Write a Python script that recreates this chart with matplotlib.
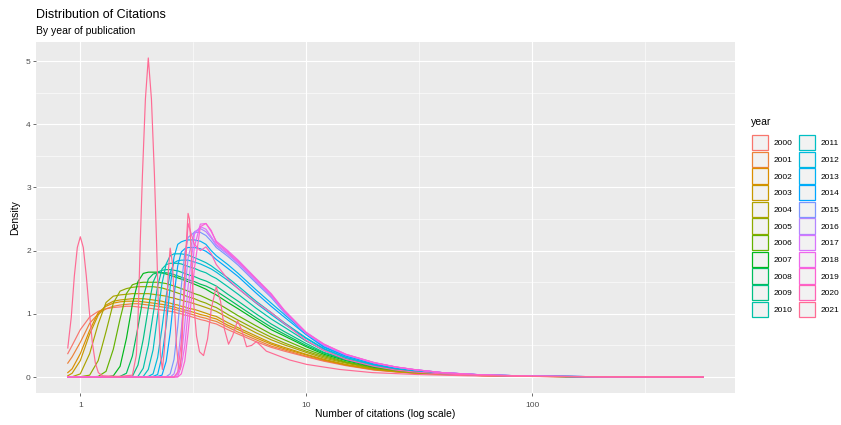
import numpy as np
import matplotlib
matplotlib.use("Agg")
import matplotlib.pyplot as plt
from matplotlib.patches import Patch
from matplotlib.ticker import FixedLocator

plt.rcParams["font.family"] = ["Liberation Sans", "DejaVu Sans"]

# ---- data ----
years = list(range(2000, 2022))

# common citation grid for 2000-2020
cites = [0.88, 0.92, 1.0,
         1.1, 1.2, 1.3, 1.4, 1.5, 1.6, 1.7, 1.8, 1.9,
         2.0, 2.1, 2.2, 2.3, 2.4, 2.5, 2.6, 2.7, 2.8, 2.9,
         3.0, 3.2, 3.4, 3.6, 3.8, 4.0,
         4.5, 5, 6, 7, 8, 10, 12, 15,
         20, 25, 30, 40, 60, 100, 200, 573]

density = [
    # 2000
    [0.37, 0.50, 0.75,
     0.95, 1.04, 1.08, 1.10, 1.11, 1.12, 1.12, 1.11, 1.10,
     1.09, 1.08, 1.07, 1.06, 1.05, 1.04, 1.03, 1.01, 1.00, 0.98,
     0.97, 0.94, 0.91, 0.89, 0.86, 0.84,
     0.75, 0.68, 0.56, 0.47, 0.41, 0.32, 0.25, 0.18,
     0.11, 0.08, 0.06, 0.04, 0.022, 0.010, 0.004, 0.001],
    # 2001
    [0.22, 0.32, 0.55,
     0.85, 1.00, 1.08, 1.12, 1.14, 1.15, 1.16, 1.16, 1.15,
     1.14, 1.13, 1.12, 1.11, 1.10, 1.09, 1.07, 1.06, 1.04, 1.03,
     1.01, 0.98, 0.95, 0.93, 0.90, 0.88,
     0.79, 0.71, 0.59, 0.49, 0.43, 0.33, 0.26, 0.19,
     0.114, 0.083, 0.062, 0.042, 0.023, 0.011, 0.004, 0.001],
    # 2002
    [0.07, 0.13, 0.37,
     0.74, 1.02, 1.12, 1.17, 1.19, 1.20, 1.20, 1.20, 1.19,
     1.18, 1.17, 1.16, 1.15, 1.14, 1.12, 1.11, 1.09, 1.08, 1.06,
     1.05, 1.02, 0.99, 0.97, 0.94, 0.92,
     0.82, 0.75, 0.62, 0.52, 0.45, 0.35, 0.27, 0.19,
     0.12, 0.086, 0.064, 0.043, 0.023, 0.011, 0.004, 0.001],
    # 2003
    [0.02, 0.06, 0.26,
     0.68, 0.98, 1.14, 1.20, 1.22, 1.23, 1.24, 1.24, 1.24,
     1.23, 1.22, 1.21, 1.20, 1.18, 1.17, 1.15, 1.14, 1.12, 1.11,
     1.09, 1.07, 1.04, 1.01, 0.98, 0.96,
     0.86, 0.78, 0.65, 0.54, 0.47, 0.36, 0.28, 0.20,
     0.124, 0.089, 0.067, 0.045, 0.024, 0.011, 0.004, 0.001],
    # 2004
    [0.0, 0.005, 0.05,
     0.37, 0.84, 1.18, 1.28, 1.30, 1.31, 1.32, 1.32, 1.32,
     1.32, 1.31, 1.30, 1.29, 1.28, 1.26, 1.25, 1.23, 1.22, 1.20,
     1.19, 1.16, 1.13, 1.10, 1.07, 1.04,
     0.94, 0.85, 0.70, 0.59, 0.51, 0.39, 0.30, 0.22,
     0.13, 0.096, 0.072, 0.048, 0.025, 0.012, 0.004, 0.001],
    # 2005
    [0.0, 0.0, 0.005,
     0.03, 0.26, 0.72, 1.17, 1.36, 1.40, 1.42, 1.43, 1.43,
     1.43, 1.43, 1.42, 1.41, 1.39, 1.37, 1.35, 1.33, 1.31, 1.29,
     1.27, 1.24, 1.20, 1.17, 1.13, 1.10,
     0.99, 0.90, 0.75, 0.63, 0.54, 0.41, 0.32, 0.23,
     0.14, 0.10, 0.075, 0.05, 0.026, 0.012, 0.004, 0.001],
    # 2006
    [0.0, 0.0, 0.0,
     0.0, 0.01, 0.09, 0.44, 0.92, 1.32, 1.46, 1.49, 1.50,
     1.50, 1.50, 1.50, 1.49, 1.48, 1.46, 1.44, 1.42, 1.40, 1.38,
     1.36, 1.32, 1.29, 1.25, 1.21, 1.18,
     1.07, 0.97, 0.81, 0.68, 0.59, 0.44, 0.34, 0.24,
     0.15, 0.106, 0.079, 0.052, 0.027, 0.012, 0.004, 0.001],
    # 2007
    [0.0, 0.0, 0.0,
     0.0, 0.0, 0.0, 0.02, 0.17, 0.61, 1.15, 1.51, 1.64,
     1.66, 1.66, 1.66, 1.65, 1.63, 1.61, 1.59, 1.57, 1.55, 1.53,
     1.51, 1.47, 1.43, 1.39, 1.34, 1.30,
     1.18, 1.08, 0.90, 0.75, 0.65, 0.48, 0.36, 0.26,
     0.16, 0.114, 0.086, 0.056, 0.029, 0.013, 0.004, 0.001],
    # 2008
    [0.0, 0.0, 0.0,
     0.0, 0.0, 0.0, 0.0, 0.01, 0.06, 0.33, 0.79, 1.27,
     1.55, 1.63, 1.65, 1.65, 1.65, 1.64, 1.62, 1.60, 1.58, 1.56,
     1.54, 1.51, 1.47, 1.44, 1.40, 1.36,
     1.24, 1.13, 0.94, 0.79, 0.68, 0.50, 0.38, 0.27,
     0.165, 0.118, 0.088, 0.057, 0.03, 0.013, 0.004, 0.001],
    # 2009
    [0.0, 0.0, 0.0,
     0.0, 0.0, 0.0, 0.0, 0.0, 0.0, 0.01, 0.19, 0.60,
     1.09, 1.50, 1.66, 1.69, 1.70, 1.70, 1.69, 1.68, 1.66, 1.64,
     1.62, 1.59, 1.55, 1.52, 1.48, 1.44,
     1.31, 1.20, 1.00, 0.84, 0.72, 0.53, 0.39, 0.28,
     0.17, 0.124, 0.092, 0.059, 0.03, 0.013, 0.004, 0.001],
    # 2010
    [0.0, 0.0, 0.0,
     0.0, 0.0, 0.0, 0.0, 0.0, 0.0, 0.0, 0.01, 0.14,
     0.50, 0.99, 1.44, 1.71, 1.78, 1.80, 1.80, 1.80, 1.79, 1.77,
     1.75, 1.72, 1.68, 1.65, 1.60, 1.56,
     1.43, 1.31, 1.09, 0.92, 0.79, 0.57, 0.42, 0.29,
     0.18, 0.131, 0.098, 0.062, 0.032, 0.014, 0.004, 0.001],
    # 2011
    [0.0, 0.0, 0.0,
     0.0, 0.0, 0.0, 0.0, 0.0, 0.0, 0.0, 0.0, 0.01,
     0.12, 0.43, 0.98, 1.48, 1.79, 1.92, 1.95, 1.95, 1.95, 1.94,
     1.93, 1.89, 1.85, 1.81, 1.76, 1.70,
     1.57, 1.44, 1.20, 1.02, 0.86, 0.62, 0.45, 0.31,
     0.195, 0.139, 0.104, 0.065, 0.033, 0.014, 0.005, 0.001],
    # 2012
    [0.0, 0.0, 0.0,
     0.0, 0.0, 0.0, 0.0, 0.0, 0.0, 0.0, 0.0, 0.0,
     0.01, 0.05, 0.31, 0.78, 1.28, 1.65, 1.81, 1.84, 1.85, 1.85,
     1.85, 1.82, 1.79, 1.75, 1.71, 1.66,
     1.53, 1.40, 1.17, 0.99, 0.84, 0.61, 0.44, 0.31,
     0.19, 0.136, 0.103, 0.065, 0.033, 0.014, 0.005, 0.001],
    # 2013
    [0.0, 0.0, 0.0,
     0.0, 0.0, 0.0, 0.0, 0.0, 0.0, 0.0, 0.0, 0.0,
     0.0, 0.01, 0.04, 0.33, 0.82, 1.43, 1.90, 2.10, 2.14, 2.16,
     2.17, 2.17, 2.15, 2.10, 2.00, 1.92,
     1.78, 1.64, 1.38, 1.17, 0.99, 0.69, 0.48, 0.34,
     0.21, 0.15, 0.113, 0.069, 0.034, 0.015, 0.005, 0.001],
    # 2014
    [0.0, 0.0, 0.0,
     0.0, 0.0, 0.0, 0.0, 0.0, 0.0, 0.0, 0.0, 0.0,
     0.0, 0.0, 0.01, 0.03, 0.25, 0.70, 1.29, 1.76, 1.98, 2.03,
     2.05, 2.05, 2.03, 1.99, 1.93, 1.86,
     1.72, 1.59, 1.33, 1.12, 0.95, 0.67, 0.47, 0.33,
     0.21, 0.147, 0.11, 0.067, 0.034, 0.015, 0.005, 0.001],
    # 2015
    [0.0, 0.0, 0.0,
     0.0, 0.0, 0.0, 0.0, 0.0, 0.0, 0.0, 0.0, 0.0,
     0.0, 0.0, 0.0, 0.0, 0.005, 0.05, 0.28, 0.80, 1.43, 1.96,
     2.21, 2.29, 2.29, 2.24, 2.15, 2.05,
     1.91, 1.77, 1.49, 1.26, 1.02, 0.69, 0.50, 0.35,
     0.22, 0.156, 0.117, 0.07, 0.034, 0.015, 0.005, 0.001],
    # 2016
    [0.0, 0.0, 0.0,
     0.0, 0.0, 0.0, 0.0, 0.0, 0.0, 0.0, 0.0, 0.0,
     0.0, 0.0, 0.0, 0.0, 0.0, 0.0, 0.05, 0.26, 0.75, 1.36,
     1.88, 2.30, 2.35, 2.30, 2.20, 2.08,
     1.94, 1.80, 1.51, 1.28, 1.03, 0.69, 0.50, 0.35,
     0.225, 0.157, 0.117, 0.07, 0.034, 0.015, 0.005, 0.001],
    # 2017
    [0.0, 0.0, 0.0,
     0.0, 0.0, 0.0, 0.0, 0.0, 0.0, 0.0, 0.0, 0.0,
     0.0, 0.0, 0.0, 0.0, 0.0, 0.0, 0.0, 0.05, 0.30, 0.83,
     1.43, 2.26, 2.38, 2.34, 2.22, 2.10,
     1.96, 1.81, 1.53, 1.29, 1.04, 0.70, 0.51, 0.355,
     0.226, 0.158, 0.118, 0.07, 0.034, 0.015, 0.005, 0.001],
    # 2018
    [0.0, 0.0, 0.0,
     0.0, 0.0, 0.0, 0.0, 0.0, 0.0, 0.0, 0.0, 0.0,
     0.0, 0.0, 0.0, 0.0, 0.0, 0.0, 0.0, 0.01, 0.17, 0.49,
     1.03, 2.06, 2.42, 2.43, 2.30, 2.15,
     2.00, 1.85, 1.56, 1.32, 1.06, 0.71, 0.52, 0.36,
     0.23, 0.16, 0.12, 0.07, 0.035, 0.015, 0.005, 0.001],
    # 2019
    [0.0, 0.0, 0.0,
     0.0, 0.0, 0.0, 0.0, 0.0, 0.0, 0.0, 0.0, 0.0,
     0.0, 0.0, 0.0, 0.0, 0.0, 0.0, 0.0, 0.0, 0.05, 0.25,
     0.70, 1.72, 2.38, 2.43, 2.32, 2.13,
     1.98, 1.83, 1.55, 1.31, 1.05, 0.70, 0.52, 0.36,
     0.227, 0.159, 0.119, 0.07, 0.035, 0.015, 0.005, 0.001],
    # 2020
    [0.0, 0.0, 0.0,
     0.0, 0.0, 0.0, 0.0, 0.0, 0.0, 0.0, 0.0, 0.0,
     0.0, 0.0, 0.0, 0.0, 0.0, 0.0, 0.0, 0.08, 0.55, 1.60,
     2.43, 2.10, 2.00, 2.06, 1.95, 1.78,
     1.55, 1.40, 1.18, 1.02, 0.85, 0.58, 0.42, 0.28,
     0.17, 0.11, 0.08, 0.05, 0.025, 0.01, 0.004, 0.001],
]

# 2021 is spiky (mostly whole-number citation counts), so it has its own grid
cites_2021 = [0.88, 0.912, 0.941, 0.97, 1.0, 1.031, 1.063, 1.096, 1.13, 1.166,
              1.202, 1.252, 1.489, 1.701, 1.771, 1.808, 1.845, 1.884, 1.942, 2.0,
              2.065, 2.129, 2.173, 2.218, 2.264, 2.31, 2.358, 2.406, 2.456, 2.5,
              2.559, 2.611, 2.665, 2.72, 2.762, 2.805, 2.863, 2.922, 3.0, 3.044,
              3.107, 3.171, 3.27, 3.372, 3.513, 3.658, 3.81, 4.0, 4.177, 4.351,
              4.533, 4.722, 4.969, 5.176, 5.446, 5.731, 6.015, 6.283, 6.662, 7.628,
              8.451, 10.05, 14.08, 19.67, 31.1, 51.9, 100, 200, 573]
dens_2021 = [0.46, 0.95, 1.6, 2.05, 2.22, 2.05, 1.6, 1.05, 0.55, 0.22,
             0.07, 0.02, 0.01, 0.03, 0.35, 1.1, 2.2, 3.2, 4.4, 5.05,
             4.4, 3.2, 2.2, 1.1, 0.35, 0.12, 0.45, 1.05, 1.7, 2.04,
             1.8, 1.15, 0.5, 0.18, 0.12, 0.35, 1.1, 1.9, 2.59, 2.5,
             1.9, 1.2, 0.65, 0.4, 0.34, 0.6, 1.1, 1.43, 1.2, 0.75,
             0.52, 0.65, 0.89, 0.75, 0.48, 0.5, 0.56, 0.5, 0.41, 0.33,
             0.27, 0.2, 0.12, 0.07, 0.04, 0.02, 0.01, 0.003, 0.001]

x_ticks = [1, 10, 100]
x_labels = ["1", "10", "100"]
y_ticks = [0, 1, 2, 3, 4, 5]


def hue_colour(h, c=100.0, l=65.0):
    """ggplot-style hcl() colour -> rgb tuple."""
    xn, yn, zn = 95.047, 100.0, 108.883
    un = 4 * xn / (xn + 15 * yn + 3 * zn)
    vn = 9 * yn / (xn + 15 * yn + 3 * zn)
    u = c * np.cos(np.radians(h)) / (13 * l) + un
    v = c * np.sin(np.radians(h)) / (13 * l) + vn
    y = yn * ((l + 16) / 116) ** 3
    x = 9 * y * u / (4 * v)
    z = (9 * y - 15 * v * y - v * x) / (3 * v)
    m = np.array([[3.2404542, -1.5371385, -0.4985314],
                  [-0.9692660, 1.8760108, 0.0415560],
                  [0.0556434, -0.2040259, 1.0572252]])
    rgb = m @ (np.array([x, y, z]) / 100)
    rgb = np.where(rgb <= 0.0031308, 12.92 * rgb,
                   1.055 * np.abs(rgb) ** (1 / 2.4) - 0.055)
    return tuple(np.clip(rgb, 0, 1))


colours = [hue_colour(15 + 360 * i / len(years)) for i in range(len(years))]

fig = plt.figure(figsize=(8.41, 4.25), dpi=100)
W, H = 841, 425
ax = fig.add_axes([36 / W, 1 - 393 / H, 699 / W, 351 / H])
ax.set_facecolor("#EBEBEB")

for col, dens in zip(colours[:-1], density):
    ax.plot(cites, dens, color=col, lw=0.85, solid_joinstyle="round")
ax.plot(cites_2021, dens_2021, color=colours[-1], lw=0.85, solid_joinstyle="round")

# ggplot-like 5% expansion
ax.set_xscale("log")
lo, hi = np.log10(min(cites)), np.log10(max(cites))
pad = 0.05 * (hi - lo)
ax.set_xlim(10 ** (lo - pad), 10 ** (hi + pad))
ymax = max(dens_2021)
ax.set_ylim(-0.05 * ymax, ymax * 1.05)

ax.xaxis.set_major_locator(FixedLocator(x_ticks))
ax.set_xticklabels(x_labels)
ax.xaxis.set_minor_locator(FixedLocator([10 ** 0.5, 10 ** 1.5, 10 ** 2.5]))
ax.set_yticks(y_ticks)
ax.yaxis.set_minor_locator(FixedLocator([0.5, 1.5, 2.5, 3.5, 4.5]))

ax.grid(which="major", color="white", lw=0.8)
ax.grid(which="minor", color="white", lw=0.4)
ax.set_axisbelow(True)
for s in ax.spines.values():
    s.set_visible(False)
ax.tick_params(which="major", length=2.2, width=0.5, color="#333333",
               labelsize=6, labelcolor="#4D4D4D", pad=1.5)
ax.tick_params(axis="x", which="major", pad=4)
ax.tick_params(which="minor", length=0)

ax.set_xlabel("Number of citations (log scale)", fontsize=7.5, labelpad=0.5)
ax.set_ylabel("Density", fontsize=7.5, labelpad=4)

fig.text(36 / W, 1 - 18 / H, "Distribution of Citations", fontsize=9, va="baseline")
fig.text(36 / W, 1 - 34.5 / H, "By year of publication", fontsize=7.5, va="baseline")

# legend: title drawn separately so the gap above the keys matches
fig.text(751 / W, 1 - 122 / H, "year", fontsize=7.5, va="center")
handles = [Patch(facecolor="#F2F2F2", edgecolor=c, linewidth=0.9, label=str(y))
           for y, c in zip(years, colours)]
leg = fig.legend(handles=handles, ncol=2, loc="upper left",
                 bbox_to_anchor=(748 / W, 1 - 131 / H), frameon=False,
                 fontsize=6, handlelength=1.9, handleheight=2.45,
                 labelspacing=0.16, handletextpad=0.7, columnspacing=0.8,
                 borderpad=0)

fig.savefig("out.png", dpi=100)
